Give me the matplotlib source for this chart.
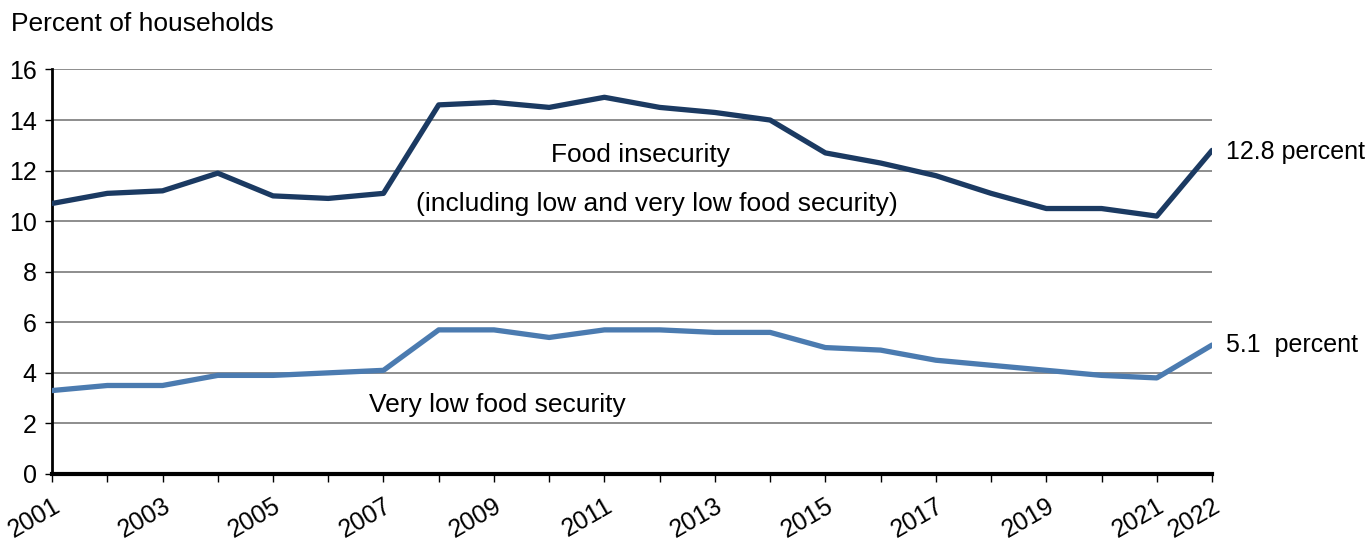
import matplotlib.pyplot as plt

plt.rcParams['font.family'] = ['Liberation Sans', 'DejaVu Sans']

years = list(range(2001, 2023))
food_insecurity = [10.7, 11.1, 11.2, 11.9, 11.0, 10.9, 11.1, 14.6, 14.7, 14.5, 14.9,
                   14.5, 14.3, 14.0, 12.7, 12.3, 11.8, 11.1, 10.5, 10.5, 10.2, 12.8]
very_low = [3.3, 3.5, 3.5, 3.9, 3.9, 4.0, 4.1, 5.7, 5.7, 5.4, 5.7,
            5.7, 5.6, 5.6, 5.0, 4.9, 4.5, 4.3, 4.1, 3.9, 3.8, 5.1]
tick_years = [2001, 2003, 2005, 2007, 2009, 2011, 2013, 2015, 2017, 2019, 2021, 2022]

DARK = "#1b3a62"
LIGHT = "#4b7bb0"

fig = plt.figure(figsize=(13.7, 5.42), dpi=100)
ax = fig.add_axes([0.038, 0.1255, 0.8467, 0.7463])

ax.plot(years, food_insecurity, color=DARK, lw=3.8, solid_capstyle="round",
        solid_joinstyle="round", zorder=3)
ax.plot(years, very_low, color=LIGHT, lw=3.8, solid_capstyle="round",
        solid_joinstyle="round", zorder=3)

ax.set_xlim(2001, 2022)
ax.set_ylim(0, 16)
ax.set_yticks(range(0, 17, 2))
ax.set_xticks(years, minor=True)
ax.set_xticks(tick_years)
ax.set_xticklabels([str(y) for y in tick_years], rotation=30, ha="right",
                   rotation_mode="anchor", fontsize=18)
ax.tick_params(axis="x", which="both", length=6, width=1, direction="out", pad=8)
ax.tick_params(axis="y", length=5, width=1, labelsize=18, pad=6)

ax.grid(axis="y", color="#7a7a7a", lw=1.2)
ax.set_axisbelow(True)
for s in ("top", "right"):
    ax.spines[s].set_visible(False)
ax.spines["left"].set_linewidth(2)
ax.spines["bottom"].set_linewidth(3)
ax.spines["bottom"].set_zorder(4)

fig.text(0.008, 0.955, "Percent of households", fontsize=19, va="center", ha="left")

ax.text(2011.66, 12.6, "Food insecurity", fontsize=19, ha="center", va="center")
ax.text(2011.95, 10.67, "(including low and very low food security)", fontsize=19,
        ha="center", va="center")
ax.text(2009.06, 2.73, "Very low food security", fontsize=19, ha="center", va="center")
ax.text(2022.25, 12.73, "12.8 percent", fontsize=18, ha="left", va="center", clip_on=False)
ax.text(2022.25, 5.1, "5.1  percent", fontsize=18, ha="left", va="center", clip_on=False)

fig.savefig("out.png", dpi=100)
